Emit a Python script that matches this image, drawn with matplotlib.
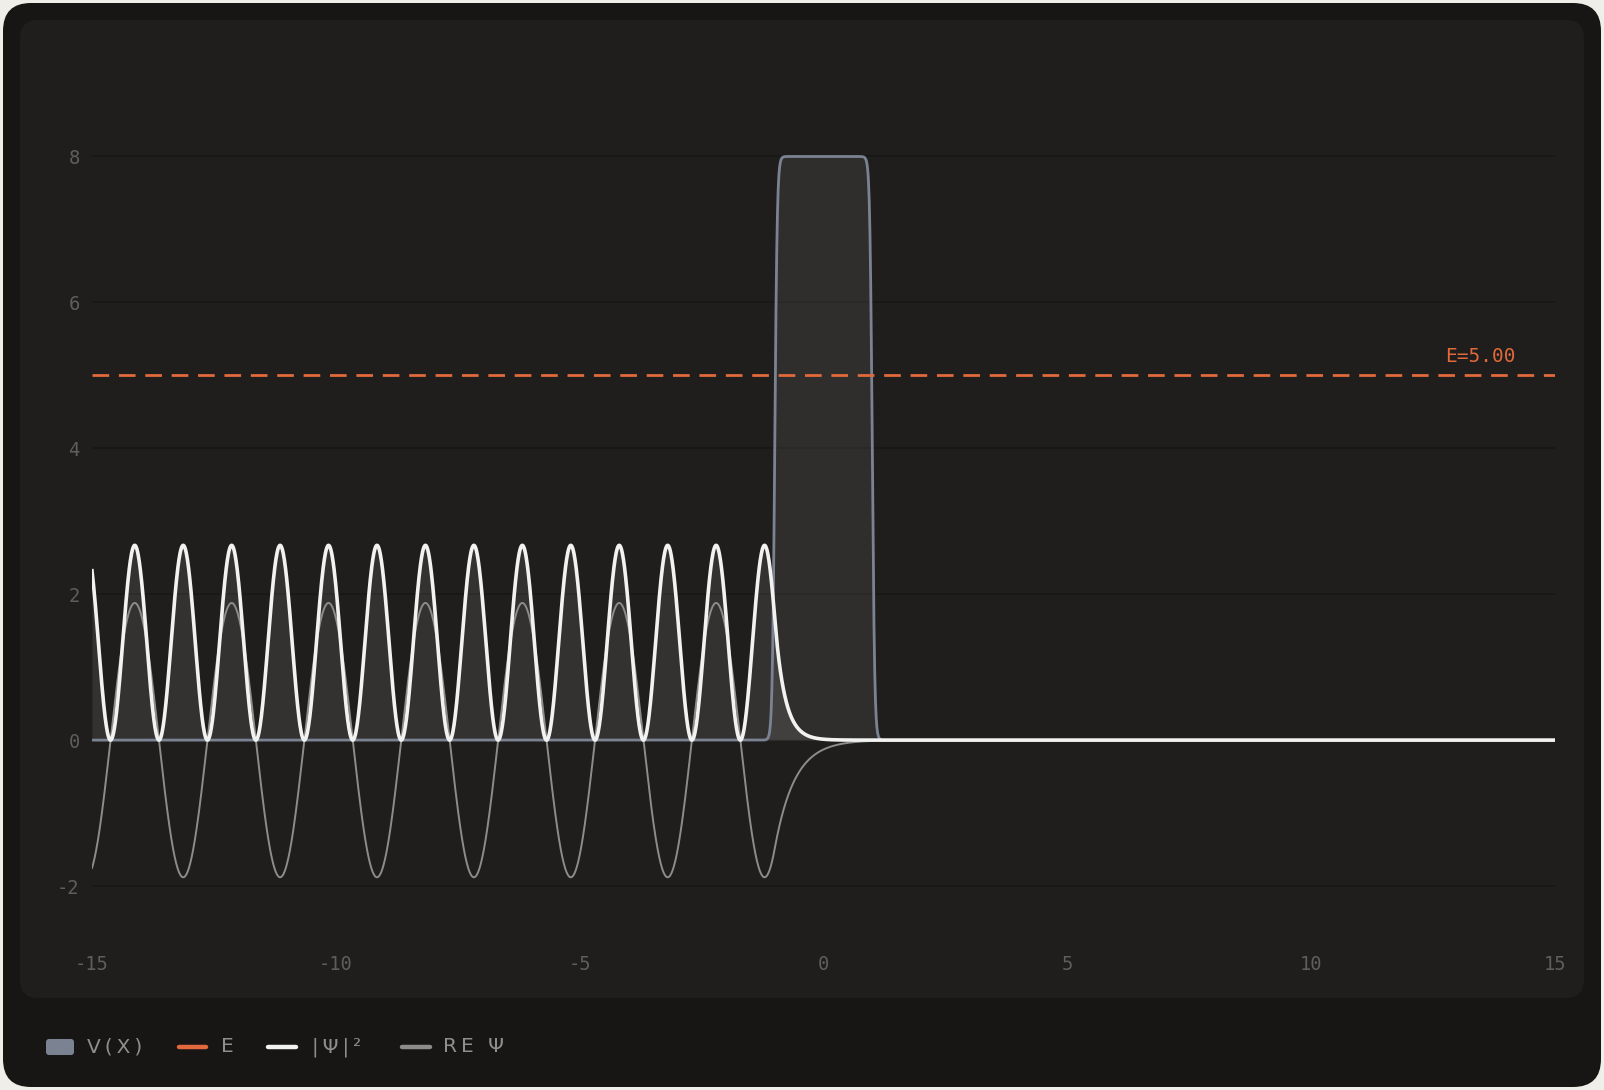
import numpy as np
import matplotlib
matplotlib.use("Agg")
import matplotlib.pyplot as plt
from matplotlib.patches import FancyBboxPatch
from matplotlib.transforms import IdentityTransform

# ---------------- data ----------------
x_range = [-15.0, 15.0]
x_ticks = [-15, -10, -5, 0, 5, 10, 15]
y_ticks = [-2, 0, 2, 4, 6, 8]
E_level = 5.0                 # energy of the particle
V0 = 8.0                      # barrier height
barrier_edges = [-1.0, 1.0]   # barrier from x=-1 to x=1
edge_softness = 0.025         # smooth barrier edges
psi2_peak = 2.67              # peak of |psi|^2 as plotted
re_peak = 1.88                # amplitude of Re psi as plotted
legend_labels = ["V(X)", "E", "|Ψ|²", "RE Ψ"]

# ---------------- colours ----------------
BG_FIG = "#efeee9"
CARD = "#171615"
PANEL = "#1f1e1d"
GRID = "#171716"
TICK = "#5e5e5e"
V_COL = "#7b8393"
E_COL = "#e2693b"
PSI2_COL = "#f2f2f0"
RE_COL = "#8c8c8c"
LEG_TXT = "#8e8e8e"

W, H = 1604, 1090
fig = plt.figure(figsize=(W / 100, H / 100), dpi=100)
fig.patch.set_facecolor(BG_FIG)


def px_box(x0, y0, x1, y1, r, color, z):
    p = FancyBboxPatch((x0 + r, H - y1 + r), (x1 - x0) - 2 * r, (y1 - y0) - 2 * r,
                       boxstyle=f"round,pad={r}", transform=IdentityTransform(),
                       facecolor=color, edgecolor="none", zorder=z)
    fig.patches.append(p)


px_box(3, 3, 1601, 1087, 28, CARD, -20)
px_box(20, 20, 1584, 998, 18, PANEL, -19)

# ---------------- axes ----------------
ylim = (-2.5, 8.5)
ax_left, ax_right = 92, 1555
ax_top, ax_bot = 120, 922.5
ax = fig.add_axes([ax_left / W, 1 - ax_bot / H, (ax_right - ax_left) / W, (ax_bot - ax_top) / H])
ax.set_facecolor("none")
ax.set_xlim(*x_range)
ax.set_ylim(*ylim)
for s in ax.spines.values():
    s.set_visible(False)

ax.set_xticks(x_ticks)
ax.set_yticks(y_ticks)
ax.set_xticklabels([str(t) for t in x_ticks])
ax.set_yticklabels([str(t) for t in y_ticks])
ax.tick_params(axis="both", length=0, colors=TICK, labelsize=13.5)
ax.tick_params(axis="x", pad=23.5)
ax.tick_params(axis="y", pad=9)
for lab in ax.get_xticklabels() + ax.get_yticklabels():
    lab.set_family("DejaVu Sans Mono")
for yt in y_ticks:
    ax.axhline(yt, color=GRID, lw=1.2, zorder=0)

# ---------------- curves ----------------
x = np.linspace(x_range[0], x_range[1], 4001)
xl, xr = barrier_edges
V = V0 * (1 / (1 + np.exp(-(x - xl) / edge_softness)) - 1 / (1 + np.exp(-(x - xr) / edge_softness)))

k = np.sqrt(2 * E_level)
kappa = np.sqrt(2 * (V0 - E_level))
delta = np.arctan(kappa / k)
psi = np.where(x < xl,
               np.cos(k * (x - xl) + delta),
               np.cos(delta) * np.exp(-kappa * (x - xl)))
psi2 = psi2_peak * psi ** 2
re_psi = -re_peak * psi

ax.fill_between(x, 0, V, color="white", alpha=0.075, lw=0, zorder=1)
ax.plot(x, V, color=V_COL, lw=2.0, zorder=3, solid_capstyle="butt")
ax.fill_between(x, 0, psi2, color="white", alpha=0.09, lw=0, zorder=2)
ax.plot(x, re_psi, color=RE_COL, lw=1.4, zorder=4)
ax.plot(x, psi2, color=PSI2_COL, lw=2.6, zorder=5)
ax.axhline(E_level, color=E_COL, lw=2.0, dashes=(6, 3.5), zorder=6)
ax.annotate(f"E={E_level:.2f}", xy=(x_range[1], E_level), xytext=(-39, 9),
            textcoords="offset pixels", ha="right", va="bottom",
            color=E_COL, fontsize=14, family="DejaVu Sans Mono")

# ---------------- legend ----------------
ly = 1047


def fx(p):
    return p / W


def fy(p):
    return 1 - p / H


sw = FancyBboxPatch((46 + 3, H - 1055 + 3), 28 - 6, 16 - 6, boxstyle="round,pad=3",
                    transform=IdentityTransform(), facecolor=V_COL, edgecolor="none")
fig.patches.append(sw)
spaced = ["V\u2009(\u2009X\u2009)", "E", "|\u2009Ψ\u2009|\u2009²", "R\u2009E\u2009 \u2009Ψ"]
fig.text(fx(87), fy(ly), spaced[0], color=LEG_TXT, fontsize=14.5, va="center", ha="left")
for (x0, x1, col, tx, lab) in [(179, 206, E_COL, 221, spaced[1]),
                                (268, 296, PSI2_COL, 312, spaced[2]),
                                (402, 430, RE_COL, 443, spaced[3])]:
    fig.add_artist(plt.Line2D([fx(x0), fx(x1)], [fy(ly), fy(ly)], transform=fig.transFigure,
                              color=col, lw=3.2, solid_capstyle="round"))
    fig.text(fx(tx), fy(ly), lab, color=LEG_TXT, fontsize=14.5, va="center", ha="left")

fig.savefig("out.png", dpi=100, facecolor=BG_FIG)
